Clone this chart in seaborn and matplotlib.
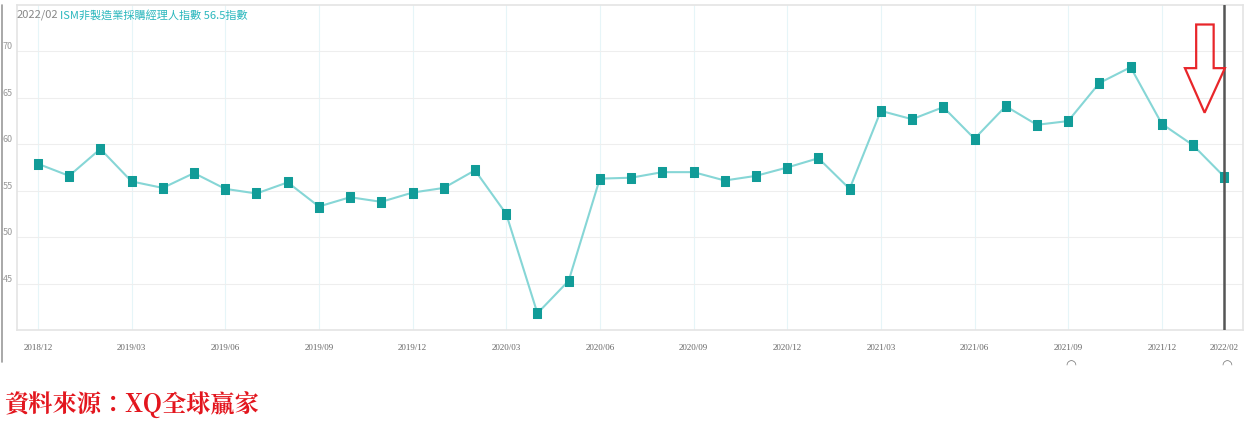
import matplotlib
matplotlib.use("Agg")
import matplotlib.pyplot as plt
import seaborn as sns
import pandas as pd
from matplotlib.patches import Polygon
from matplotlib.lines import Line2D

# monthly values, 2018/12 .. 2022/02
months = ["2018/12", "2019/01", "2019/02", "2019/03", "2019/04", "2019/05", "2019/06",
          "2019/07", "2019/08", "2019/09", "2019/10", "2019/11", "2019/12",
          "2020/01", "2020/02", "2020/03", "2020/04", "2020/05", "2020/06",
          "2020/07", "2020/08", "2020/09", "2020/10", "2020/11", "2020/12",
          "2021/01", "2021/02", "2021/03", "2021/04", "2021/05", "2021/06",
          "2021/07", "2021/08", "2021/09", "2021/10", "2021/11", "2021/12",
          "2022/01", "2022/02"]
pmi = [57.9, 56.6, 59.5, 56.0, 55.3, 56.9, 55.2, 54.7, 55.9, 53.3, 54.3, 53.8, 54.8,
       55.3, 57.2, 52.5, 41.8, 45.3, 56.3, 56.4, 57.0, 57.0, 56.1, 56.6, 57.5,
       58.5, 55.2, 63.6, 62.7, 64.0, 60.6, 64.1, 62.1, 62.5, 66.6, 68.3, 62.2,
       59.9, 56.5]
tick_labels = ["2018/12", "2019/03", "2019/06", "2019/09", "2019/12", "2020/03",
               "2020/06", "2020/09", "2020/12", "2021/03", "2021/06", "2021/09",
               "2021/12", "2022/02"]
y_ticks = [45, 50, 55, 60, 65, 70]

df = pd.DataFrame({"month": months, "pmi": pmi})
df["idx"] = range(len(df))

sns.set_style("white")
plt.rcParams["font.family"] = ["Noto Sans CJK TC", "DejaVu Sans"]

fig = plt.figure(figsize=(12.52, 4.42), dpi=100)
ax = fig.add_axes([17 / 1252, 1 - 330 / 442, (1243 - 17) / 1252, (330 - 5) / 442])

# tall little rectangles as markers
rect_marker = [(-0.38, -0.5), (0.38, -0.5), (0.38, 0.5), (-0.38, 0.5), (-0.38, -0.5)]
sns.lineplot(data=df, x="idx", y="pmi", ax=ax, color="#86d6d6", linewidth=1.5,
             marker=rect_marker, markersize=7, markerfacecolor="#119c98",
             markeredgecolor="#119c98", zorder=3)

tick_pos = [months.index(t) for t in tick_labels]
ax.set_xticks(tick_pos)
ax.set_xticklabels(tick_labels, fontsize=6.5, color="#666666", family="Liberation Serif")
ax.set_yticks(y_ticks)
ax.set_yticklabels([str(v) for v in y_ticks], fontsize=6.5, color="#999999")
for lab in ax.get_yticklabels():
    lab.set_verticalalignment("bottom")
ax.tick_params(axis="y", pad=3, length=0)
ax.tick_params(axis="x", pad=10, length=0)

ax.set_xlim(-0.67, 38.6)
ax.set_ylim(40, 75)
ax.set_xlabel("")
ax.set_ylabel("")

ax.grid(True, axis="x", color="#e6f5f8", linewidth=0.8)
ax.grid(True, axis="y", color="#eeeeee", linewidth=0.8)
for s in ax.spines.values():
    s.set_color("#e4e4e4")
    s.set_linewidth(1.2)

# current month marker line
ax.axvline(len(months) - 1, color="#555555", linewidth=1.8, zorder=4)

# hollow red arrow pointing down
arrow = Polygon([(37.1, 72.9), (37.66, 72.9), (37.66, 68.2), (38.02, 68.2),
                 (37.37, 63.4), (36.74, 68.2), (37.1, 68.2)],
                closed=True, fill=False, edgecolor="#e8262a", linewidth=1.6, zorder=5)
ax.add_patch(arrow)

# header text
ax.text(0.0, 0.985, "2022/02", transform=ax.transAxes, fontsize=8, color="#888888",
        va="top", ha="left")
ax.text(0.035, 0.985, "ISM非製造業採購經理人指數 56.5指數", transform=ax.transAxes,
        fontsize=8, color="#2ab7bd", va="top", ha="left")

# small scroll handles under the axis
for t in ["2021/09", "2022/02"]:
    x = months.index(t)
    ax.annotate("◠", xy=(x, 40), xycoords="data", xytext=(2, -26), textcoords="offset points",
                ha="center", va="center", fontsize=9, color="#777777", family="DejaVu Sans",
                annotation_clip=False)

# outer frame line on the left
fig.add_artist(Line2D([2 / 1252, 2 / 1252], [1 - 362 / 442, 1 - 5 / 442],
                      color="#999999", linewidth=1.2))

# source note
fig.text(4 / 1252, 1 - 405 / 442, "資料來源：XQ全球贏家", fontsize=17.5, color="#e3161e",
         fontweight="bold", va="center", ha="left", family=["Noto Serif CJK TC", "Noto Sans CJK TC"])

fig.savefig("out.png", dpi=100)
